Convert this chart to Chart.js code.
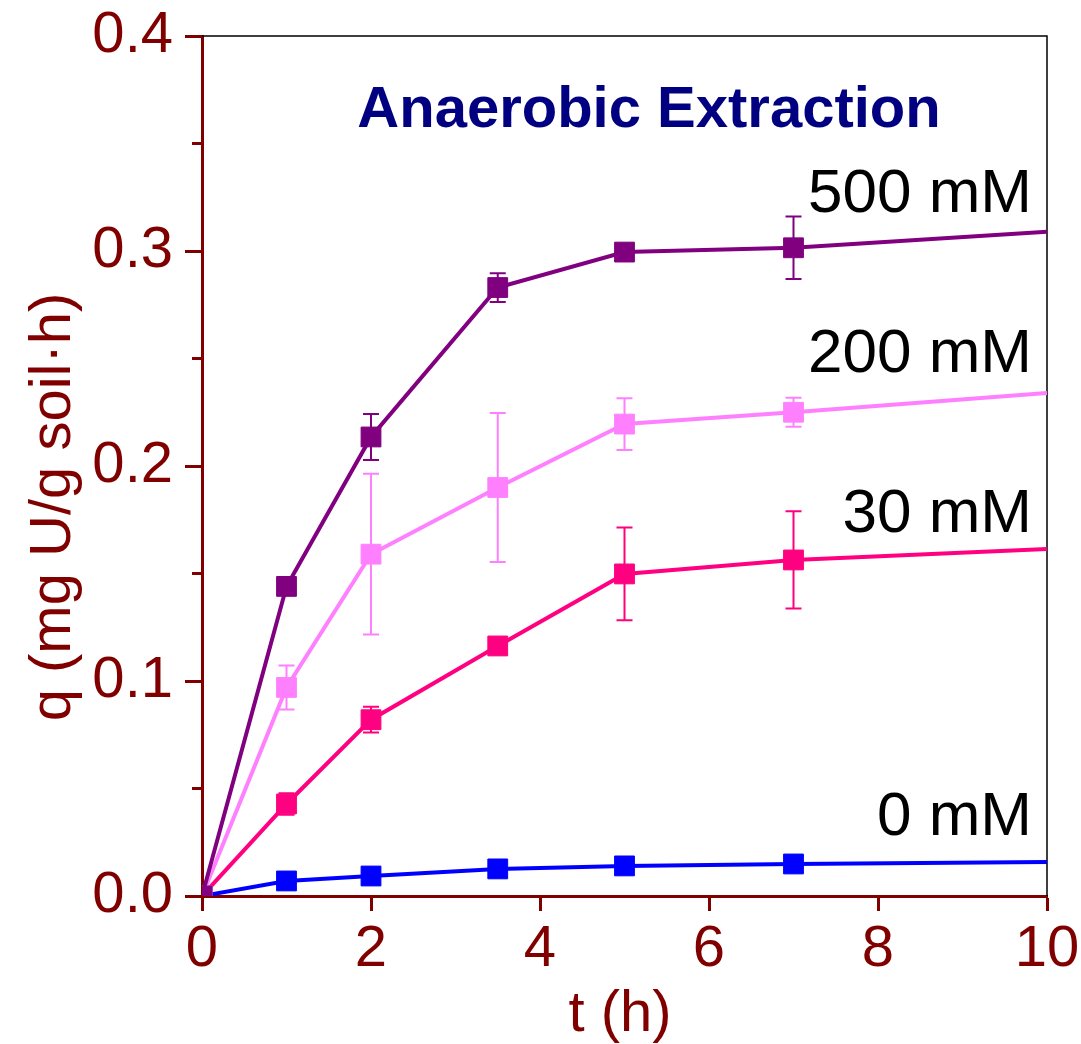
<!DOCTYPE html>
<html>
<head>
<meta charset="utf-8">
<script src="https://cdn.jsdelivr.net/npm/chart.js@4.4.0/dist/chart.umd.min.js"></script>
<style>
  html, body { margin: 0; padding: 0; background: #fff; }
  canvas { display: block; }
</style>
</head>
<body>
<canvas id="chart" width="1081" height="1044"></canvas>
<script>
/* ─── Data ───────────────────────────────────────────────────────────────── */
const times  = [0, 1, 2, 3.5, 5, 7, 10];

const q500   = [0, 0.144, 0.2135, 0.283, 0.2995, 0.3015, 0.309];
const err500 = [0, 0, 0.0107, 0.0067, 0, 0.0145, 0];

const q200   = [0, 0.097, 0.159, 0.19, 0.2195, 0.225, 0.234];
const err200 = [0, 0.0102, 0.0374, 0.0347, 0.012, 0.0067, 0];

const q30    = [0, 0.0428, 0.082, 0.1163, 0.1498, 0.1563, 0.1614];
const err30  = [0, 0.005, 0.006, 0, 0.0216, 0.0226, 0];

const q0     = [0, 0.007, 0.0093, 0.0126, 0.014, 0.0149, 0.0158];
const err0   = [0, 0, 0, 0, 0, 0, 0];

const seriesNames = ['500 mM', '200 mM', '30 mM', '0 mM'];
const seriesColors = ['#800080', '#FF80FF', '#FF0080', '#0000FF'];

const yTicksMajor = [0, 0.1, 0.2, 0.3, 0.4];
const xTicks = [0, 2, 4, 6, 8, 10];

/* ─── Helpers ────────────────────────────────────────────────────────────── */
const AXIS = '#800000';
const FONT = 'Arial, "Liberation Sans", sans-serif';

function toPoints(vals) {
  return times.map((t, i) => ({ x: t, y: vals[i] }));
}

function isMajor(v) {
  return Math.abs(v * 10 - Math.round(v * 10)) < 1e-6;
}

function makeSet(name, vals, errs, color) {
  const last = vals.length - 1;
  return {
    label: name,
    data: toPoints(vals),
    errors: errs,
    borderColor: color,
    backgroundColor: color,
    borderWidth: 4,
    pointStyle: 'rect',
    pointRadius: ctx => ctx.dataIndex === last ? 0 : 14,
    pointBorderWidth: 1,
    pointBorderColor: color,
    pointBackgroundColor: color,
    tension: 0,
    clip: 0
  };
}

/* ─── Plugins ────────────────────────────────────────────────────────────── */
const errorBars = {
  id: 'errorBars',
  beforeDatasetsDraw(chart) {
    const { ctx, scales: { x, y } } = chart;
    ctx.save();
    chart.data.datasets.forEach(ds => {
      ctx.strokeStyle = ds.borderColor;
      ctx.lineWidth = 2;
      ds.data.forEach((p, i) => {
        const e = ds.errors[i];
        if (!e) return;
        const px = x.getPixelForValue(p.x);
        const top = y.getPixelForValue(p.y + e);
        const bot = y.getPixelForValue(p.y - e);
        ctx.beginPath();
        ctx.moveTo(px, top); ctx.lineTo(px, bot);
        ctx.moveTo(px - 8, top); ctx.lineTo(px + 8, top);
        ctx.moveTo(px - 8, bot); ctx.lineTo(px + 8, bot);
        ctx.stroke();
      });
    });
    ctx.restore();
  }
};

const frameAndText = {
  id: 'frameAndText',
  beforeDatasetsDraw(chart) {
    const { ctx, chartArea: a, scales: { y } } = chart;
    ctx.save();
    // top / right frame
    ctx.strokeStyle = '#000';
    ctx.lineWidth = 1.5;
    ctx.beginPath();
    ctx.moveTo(a.left, a.top); ctx.lineTo(a.right, a.top); ctx.lineTo(a.right, a.bottom);
    ctx.stroke();
    // minor y ticks
    ctx.strokeStyle = AXIS;
    ctx.lineWidth = 3;
    y.ticks.forEach(t => {
      if (isMajor(t.value)) return;
      const py = y.getPixelForValue(t.value);
      ctx.beginPath();
      ctx.moveTo(a.left - 10, py); ctx.lineTo(a.left, py);
      ctx.stroke();
    });
    ctx.restore();
  },
  afterDraw(chart) {
    const { ctx } = chart;
    ctx.save();
    // title
    ctx.fillStyle = '#000080';
    ctx.font = `bold 58px ${FONT}`;
    ctx.textAlign = 'center';
    ctx.textBaseline = 'alphabetic';
    ctx.fillText('Anaerobic Extraction', 649, 127);

    // series labels
    ctx.fillStyle = '#000';
    ctx.font = `62px ${FONT}`;
    ctx.textAlign = 'right';
    const labelBase = [212, 372, 532, 835];
    seriesNames.forEach((n, i) => ctx.fillText(n, 1032, labelBase[i]));

    // axis titles
    ctx.fillStyle = AXIS;
    ctx.font = `58px ${FONT}`;
    ctx.textAlign = 'center';
    ctx.fillText('t (h)', 620, 1031);

    ctx.translate(70, 507);
    ctx.rotate(-Math.PI / 2);
    ctx.fillText('q (mg U/g soil\u00B7h)', 0, 0);
    ctx.restore();
  }
};

/* ─── Chart ──────────────────────────────────────────────────────────────── */
new Chart(document.getElementById('chart'), {
  type: 'line',
  data: {
    datasets: [
      makeSet(seriesNames[0], q500, err500, seriesColors[0]),
      makeSet(seriesNames[1], q200, err200, seriesColors[1]),
      makeSet(seriesNames[2], q30,  err30,  seriesColors[2]),
      makeSet(seriesNames[3], q0,   err0,   seriesColors[3])
    ]
  },
  options: {
    responsive: false,
    animation: false,
    devicePixelRatio: 1,
    layout: { padding: { top: 36, right: 34, left: 0, bottom: 0 } },
    plugins: {
      legend: { display: false },
      tooltip: { enabled: false }
    },
    scales: {
      x: {
        type: 'linear',
        min: 0,
        max: 10,
        afterFit: s => {
          s.height = 148;
          s.paddingLeft = 0;
          s.paddingRight = 0;
        },
        afterBuildTicks: s => { s.ticks = xTicks.map(v => ({ value: v })); },
        border: { display: true, color: AXIS, width: 3 },
        grid: {
          drawOnChartArea: false,
          drawTicks: true,
          tickLength: 15,
          tickWidth: 3,
          tickColor: AXIS
        },
        ticks: {
          color: AXIS,
          padding: 4,
          maxRotation: 0,
          font: { family: FONT, size: 58 }
        }
      },
      y: {
        type: 'linear',
        min: 0,
        max: 0.4,
        afterFit: s => {
          s.width = 202;
          s.paddingTop = 0;
          s.paddingBottom = 0;
        },
        border: { display: true, color: AXIS, width: 3 },
        grid: {
          drawOnChartArea: false,
          drawTicks: true,
          tickLength: 17,
          tickWidth: 3,
          tickColor: ctx => isMajor(ctx.tick.value) ? AXIS : 'rgba(0,0,0,0)'
        },
        ticks: {
          stepSize: 0.05,
          color: AXIS,
          padding: 12,
          font: { family: FONT, size: 58 },
          callback: v => isMajor(v) && yTicksMajor.some(m => Math.abs(m - v) < 1e-6) ? v.toFixed(1) : ''
        }
      }
    }
  },
  plugins: [errorBars, frameAndText]
});
</script>
</body>
</html>
